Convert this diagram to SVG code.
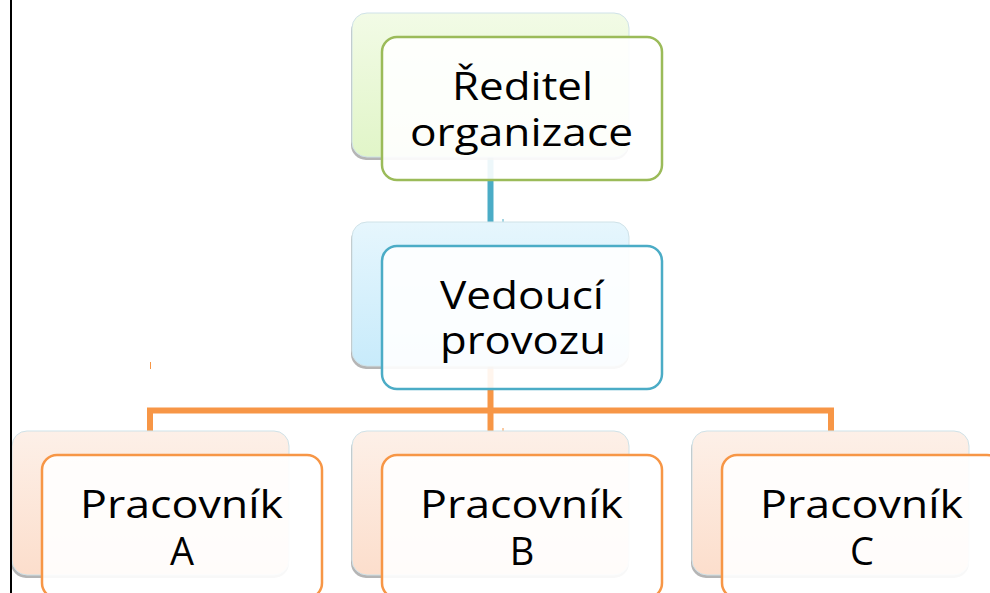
<svg xmlns="http://www.w3.org/2000/svg" width="990" height="593" viewBox="0 0 990 593">
  <defs>
    <linearGradient id="gGreen" x1="0" y1="0" x2="0" y2="1">
      <stop offset="0" stop-color="#f2fbe6"/>
      <stop offset="1" stop-color="#e1f5c8"/>
    </linearGradient>
    <linearGradient id="gBlue" x1="0" y1="0" x2="0" y2="1">
      <stop offset="0" stop-color="#e6f6fd"/>
      <stop offset="1" stop-color="#c8ebfb"/>
    </linearGradient>
    <linearGradient id="gOrange" x1="0" y1="0" x2="0" y2="1">
      <stop offset="0" stop-color="#fdf0e8"/>
      <stop offset="1" stop-color="#fcdecc"/>
    </linearGradient>
  </defs>
  <style>
    .shadow { fill: #9c9c9c; opacity: 0.75; }
    .back { stroke: #cfe2e8; stroke-width: 1; }
    .front { fill: #ffffff; fill-opacity: 0.9; stroke-width: 2.5; }
    .green { stroke: #9bbb59; }
    .blue { stroke: #4bacc6; }
    .orange { stroke: #f79646; }
    .label { font-family: "Open Sans", "Noto Sans", "Liberation Sans", sans-serif; font-size: 38px; fill: #000000; text-anchor: middle; }
    .link { fill: none; stroke-width: 6; stroke-linejoin: miter; }
  </style>

  <!-- connectors -->
  <g id="connectors">
    <line class="link" x1="490.5" y1="150" x2="490.5" y2="228" stroke="#4bacc6"/>
    <polyline class="link" points="490.5,360 490.5,410.5" stroke="#f79646"/>
    <polyline class="link" points="150,437 150,410.5 831,410.5 831,437" stroke="#f79646"/>
    <line x1="490.5" y1="410" x2="490.5" y2="440" stroke="#f79646" stroke-width="6"/>
    <line x1="503" y1="219" x2="503" y2="223" stroke="#4bacc6" stroke-width="1"/>
    <line x1="503" y1="428" x2="503" y2="432" stroke="#f79646" stroke-width="1"/>
    <line x1="150.5" y1="362" x2="150.5" y2="369" stroke="#f79646" stroke-width="1"/>
  </g>

  <!-- top: director -->
  <g id="node-reditel">
    <rect class="shadow" x="351" y="16" width="278" height="144" rx="15"/>
    <rect class="back" x="352" y="13" width="277" height="144" rx="15" fill="url(#gGreen)"/>
    <rect class="front green" x="382" y="37" width="280" height="143" rx="15"/>
    <text class="label"><tspan x="522.5" y="100" textLength="141" lengthAdjust="spacingAndGlyphs">Ředitel</tspan><tspan x="521.5" y="146" textLength="223" lengthAdjust="spacingAndGlyphs">organizace</tspan></text>
  </g>

  <!-- middle: operations manager -->
  <g id="node-vedouci">
    <rect class="shadow" x="351" y="225" width="278" height="144" rx="15"/>
    <rect class="back" x="352" y="222" width="277" height="144" rx="15" fill="url(#gBlue)"/>
    <rect class="front blue" x="382" y="246" width="280" height="143" rx="15"/>
    <text class="label"><tspan x="522" y="309" textLength="164" lengthAdjust="spacingAndGlyphs">Vedoucí</tspan><tspan x="523" y="354" textLength="166" lengthAdjust="spacingAndGlyphs">provozu</tspan></text>
  </g>

  <!-- bottom: workers -->
  <g id="node-pracovnik-a">
    <rect class="shadow" x="11" y="434" width="278" height="144" rx="15"/>
    <rect class="back" x="12" y="431" width="277" height="144" rx="15" fill="url(#gOrange)"/>
    <rect class="front orange" x="42" y="455" width="280" height="143" rx="15"/>
    <text class="label"><tspan x="181.5" y="518" textLength="203" lengthAdjust="spacingAndGlyphs">Pracovník</tspan><tspan x="182" y="565">A</tspan></text>
  </g>

  <g id="node-pracovnik-b">
    <rect class="shadow" x="351" y="434" width="278" height="144" rx="15"/>
    <rect class="back" x="352" y="431" width="277" height="144" rx="15" fill="url(#gOrange)"/>
    <rect class="front orange" x="382" y="455" width="280" height="143" rx="15"/>
    <text class="label"><tspan x="521.5" y="518" textLength="203" lengthAdjust="spacingAndGlyphs">Pracovník</tspan><tspan x="522" y="565">B</tspan></text>
  </g>

  <g id="node-pracovnik-c">
    <rect class="shadow" x="691" y="434" width="278" height="144" rx="15"/>
    <rect class="back" x="692" y="431" width="277" height="144" rx="15" fill="url(#gOrange)"/>
    <rect class="front orange" x="722" y="455" width="280" height="143" rx="15"/>
    <text class="label"><tspan x="861.5" y="518" textLength="203" lengthAdjust="spacingAndGlyphs">Pracovník</tspan><tspan x="862" y="565">C</tspan></text>
  </g>

  <!-- left border line -->
  <rect x="10" y="0" width="2" height="593" fill="#000000"/>
</svg>
